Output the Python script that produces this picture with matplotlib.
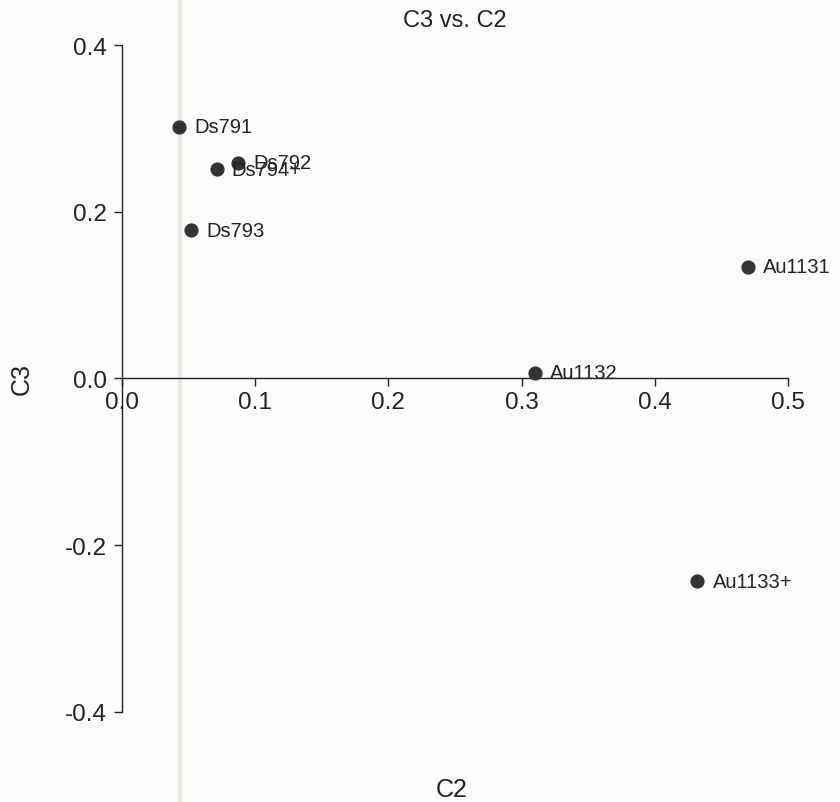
import matplotlib
matplotlib.use("Agg")
import matplotlib.pyplot as plt
from matplotlib.lines import Line2D

plt.rcParams['font.family'] = ['Liberation Sans', 'DejaVu Sans']

# C2 / C3 scores per sample
samples = ["Ds791", "Ds792", "Ds794+", "Ds793", "Au1131", "Au1132", "Au1133+"]
c2 = [0.043, 0.087, 0.071, 0.052, 0.470, 0.310, 0.432]
c3 = [0.302, 0.259, 0.251, 0.178, 0.134, 0.007, -0.243]

x_ticks = [0.0, 0.1, 0.2, 0.3, 0.4, 0.5]
y_ticks = [-0.4, -0.2, 0.0, 0.2, 0.4]

fig = plt.figure(figsize=(8.4, 8.03), dpi=100)
fig.patch.set_facecolor('#fbfbfa')
ax = fig.add_axes([0.1452, 0.1121, 0.793, 0.8306])
ax.set_facecolor('none')

# faint crease across the page
fig.add_artist(Line2D([180 / 840, 180 / 840], [0, 1], transform=fig.transFigure,
                      color='#e8e6e2', lw=3, zorder=0))

ax.scatter(c2, c3, s=85, color='#333333', zorder=3)
for name, x, y in zip(samples, c2, c3):
    ax.annotate(name, (x, y), xytext=(11, 0), textcoords='offset points',
                va='center', ha='left', fontsize=14.5, color='#222222')

ax.set_xlim(0, 0.5)
ax.set_ylim(-0.4, 0.4)
ax.spines['top'].set_visible(False)
ax.spines['right'].set_visible(False)
ax.spines['bottom'].set_position(('data', 0))
for s in ('left', 'bottom'):
    ax.spines[s].set_color('#222222')
    ax.spines[s].set_linewidth(1.0)

ax.set_xticks(x_ticks)
ax.set_xticklabels([f"{v:.1f}" for v in x_ticks])
ax.set_yticks(y_ticks)
ax.set_yticklabels([f"{v:.1f}" for v in y_ticks])
ax.tick_params(axis='both', direction='out', length=6, width=1.0,
               labelsize=17.5, colors='#222222')
ax.tick_params(axis='y', pad=5)
ax.tick_params(axis='x', pad=3)

ax.set_title("C3 vs. C2", fontsize=17, color='#222222', pad=14)
fig.text(452 / 840, 1 - 790 / 803, "C2", fontsize=18, ha='center', va='center', color='#222222')
fig.text(22 / 840, 1 - 379 / 803, "C3", fontsize=18, ha='center', va='center',
         rotation=90, color='#222222')

fig.savefig('out.png', dpi=100, facecolor=fig.get_facecolor())
